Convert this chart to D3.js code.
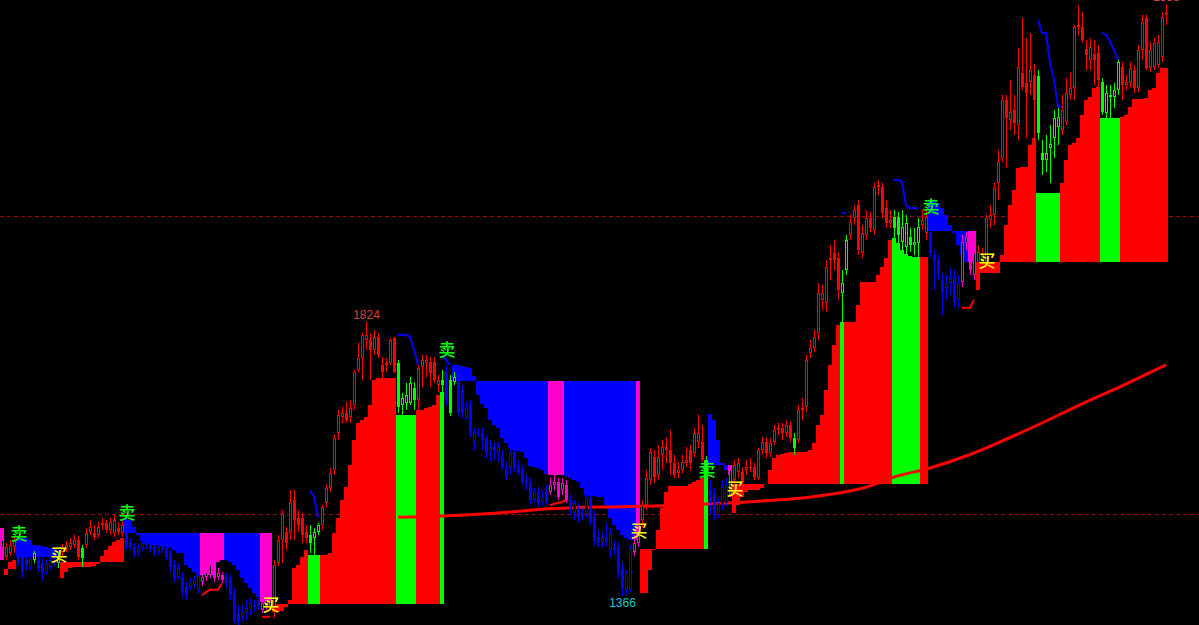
<!DOCTYPE html>
<html>
<head>
<meta charset="utf-8">
<script src="https://cdn.jsdelivr.net/npm/d3@7"></script>
<style>html,body{margin:0;padding:0;background:#000;overflow:hidden}</style>
</head>
<body>
<svg id="chart" width="1199" height="625"></svg>
<script>
// one candle per bar, prices
const opens = [
    1447,1432,1438,1448,1443,1432,1427,1415,1427,1427, 1422,1407,1415,1423,1422,1440,1447,1448,1452,1460,
    1447,1452,1473,1472,1468,1485,1488,1477,1472,1480, 1472,1493,1455,1448,1440,1447,1457,1460,1452,1440,
    1452,1447,1438,1418,1398,1398,1382,1382,1385,1377, 1390,1398,1402,1413,1398,1402,1398,1397,1372,1338,
    1332,1338,1343,1348,1352,1343,1350,1348,1347,1422, 1460,1473,1473,1527,1497,1497,1473,1468,1463,1473,
    1485,1522,1547,1577,1638,1665,1672,1665,1685,1743, 1763,1793,1793,1777,1798,1752,1752,1755,1797,1755,
    1685,1688,1688,1713,1693,1748,1755,1757,1757,1718, 1727,1740,1727,1723,1723,1710,1663,1685,1623,1640,
    1638,1630,1610,1615,1607,1598,1577,1580,1607,1585, 1577,1560,1555,1527,1540,1523,1540,1540,1552,1557,
    1543,1552,1527,1505,1513,1505,1502,1530,1498,1465, 1455,1465,1443,1448,1448,1413,1377,1377,1440,1455,
    1493,1518,1560,1598,1568,1602,1615,1610,1588,1572, 1577,1588,1610,1605,1623,1623,1593,1543,1538,1502,
    1518,1522,1535,1560,1573,1573,1577,1580,1582,1563, 1610,1623,1605,1623,1643,1647,1638,1652,1630,1627,
    1677,1682,1772,1780,1805,1860,1855,1927,1938,1930, 1872,1910,1968,1997,2018,1938,1968,1997,1977,2048,
    2048,2013,1988,1998,1998,1957,1948,1965,1952,1955, 1985,1972,1973,1935,1927,1893,1880,1888,1898,1860,
    1890,1955,1935,1902,1922,1922,1922,1993,2002,2055, 2097,2193,2160,2177,2152,2238,2222,2223,2235,2233,
    2105,2093,2113,2130,2148,2143,2157,2202,2213,2315, 2315,2278,2260,2270,2272,2223,2172,2198,2198,2210,
    2248,2218,2222,2243,2213,2277,2330,2247,2248,2252, 2265,2335
];
const highs = [
    1468,1455,1460,1465,1450,1438,1433,1438,1442,1433, 1430,1427,1432,1432,1440,1453,1458,1463,1468,1467,
    1452,1480,1493,1485,1490,1497,1493,1497,1502,1490, 1493,1497,1463,1455,1453,1463,1463,1467,1458,1455,
    1458,1452,1443,1427,1422,1407,1390,1397,1400,1407, 1410,1417,1427,1422,1413,1407,1405,1402,1380,1352,
    1352,1360,1363,1360,1363,1363,1368,1367,1427,1468, 1510,1482,1543,1543,1510,1505,1485,1485,1480,1488,
    1518,1553,1580,1635,1677,1682,1690,1693,1743,1788, 1805,1824,1805,1810,1805,1765,1763,1797,1798,1760,
    1705,1722,1732,1723,1752,1768,1768,1765,1765,1735, 1743,1752,1735,1740,1730,1718,1690,1693,1647,1647,
    1647,1635,1627,1622,1623,1610,1590,1613,1610,1593, 1585,1568,1563,1547,1548,1543,1552,1563,1568,1563,
    1563,1560,1535,1527,1522,1513,1543,1535,1510,1477, 1472,1488,1480,1460,1455,1422,1410,1452,1468,1480,
    1527,1577,1613,1610,1618,1627,1632,1643,1602,1590, 1602,1615,1618,1647,1668,1652,1600,1560,1547,1530,
    1560,1563,1582,1593,1597,1582,1593,1597,1588,1613, 1632,1630,1630,1652,1655,1655,1660,1657,1638,1685,
    1697,1768,1793,1810,1888,1885,1927,1952,1960,1940, 1910,1968,2002,2018,2027,1985,2010,2007,2055,2060,
    2055,2027,2010,2010,2007,2010,2002,1980,1980,1997, 2010,2010,1990,1943,1935,1905,1902,1913,1910,1902,
    1968,1973,1952,1947,1952,1947,2002,2018,2055,2110, 2202,2202,2227,2202,2280,2330,2297,2305,2253,2243,
    2127,2135,2152,2177,2182,2202,2230,2240,2318,2352, 2340,2293,2297,2293,2285,2230,2218,2218,2222,2260,
    2257,2235,2257,2252,2285,2335,2335,2290,2297,2302, 2340,2353
];
const lows = [
    1430,1427,1433,1438,1417,1397,1410,1410,1422,1407, 1393,1402,1410,1417,1413,1433,1440,1443,1447,1427,
    1415,1447,1468,1460,1463,1477,1472,1468,1465,1468, 1465,1443,1443,1432,1433,1442,1445,1440,1433,1435,
    1438,1427,1407,1390,1393,1365,1360,1377,1380,1372, 1383,1392,1397,1390,1393,1388,1380,1360,1322,1318,
    1323,1327,1335,1340,1343,1338,1343,1343,1330,1417, 1422,1443,1460,1460,1473,1455,1455,1438,1435,1468,
    1477,1515,1540,1568,1627,1655,1655,1655,1677,1740, 1727,1777,1727,1768,1763,1727,1740,1752,1738,1672,
    1668,1677,1685,1677,1677,1715,1732,1715,1722,1707, 1693,1685,1667,1718,1668,1663,1660,1632,1610,1632,
    1610,1597,1590,1593,1590,1577,1560,1568,1573,1568, 1552,1543,1518,1522,1515,1518,1518,1535,1543,1527,
    1535,1522,1502,1493,1490,1493,1497,1485,1452,1448, 1447,1450,1430,1435,1397,1366,1368,1373,1433,1448,
    1482,1510,1552,1555,1560,1577,1588,1568,1563,1563, 1572,1582,1577,1598,1613,1590,1535,1502,1493,1497,
    1510,1517,1532,1552,1563,1547,1568,1573,1560,1560, 1602,1597,1598,1618,1635,1627,1632,1623,1602,1622,
    1660,1673,1763,1773,1793,1843,1840,1893,1910,1860, 1823,1902,1960,1985,1935,1930,1960,1973,1968,2035,
    1997,1980,1980,1960,1952,1943,1935,1940,1935,1930, 1977,1960,1930,1877,1893,1835,1860,1868,1848,1847,
    1882,1943,1902,1893,1913,1910,1917,1980,1985,2027, 2090,2080,2143,2135,2127,2210,2130,2202,2127,2127,
    2068,2073,2055,2097,2118,2135,2152,2193,2193,2302, 2288,2243,2243,2218,2213,2168,2160,2163,2180,2202,
    2193,2210,2213,2205,2207,2260,2243,2240,2243,2247, 2257,2318
];
const closes = [
    1460,1448,1452,1460,1422,1407,1418,1430,1438,1413, 1405,1422,1427,1427,1432,1447,1452,1455,1460,1432,
    1430,1472,1482,1465,1482,1488,1477,1490,1493,1473, 1485,1448,1448,1438,1447,1455,1452,1447,1440,1448,
    1443,1432,1415,1397,1413,1373,1368,1390,1393,1402, 1398,1407,1418,1397,1405,1393,1388,1368,1327,1323,
    1340,1347,1355,1352,1355,1355,1360,1360,1418,1460, 1505,1455,1523,1493,1485,1468,1463,1455,1473,1485,
    1515,1547,1572,1630,1668,1672,1660,1680,1740,1763, 1802,1802,1777,1798,1768,1740,1755,1793,1740,1682,
    1697,1702,1722,1693,1747,1760,1760,1738,1727,1727, 1718,1693,1672,1732,1673,1672,1680,1638,1638,1638,
    1627,1605,1615,1610,1615,1582,1565,1607,1580,1573, 1557,1555,1527,1540,1522,1532,1523,1552,1557,1532,
    1555,1527,1510,1522,1498,1498,1532,1490,1460,1455, 1465,1457,1472,1443,1405,1380,1405,1447,1455,1468,
    1518,1563,1607,1565,1598,1615,1610,1588,1568,1577, 1590,1593,1588,1638,1638,1593,1543,1522,1505,1522,
    1548,1552,1577,1585,1588,1555,1582,1582,1565,1610, 1623,1605,1622,1643,1647,1638,1652,1630,1613,1677,
    1680,1760,1780,1798,1872,1872,1915,1930,1927,1877, 1888,1960,1990,2010,1943,1972,1997,1980,2048,2052,
    2005,1988,1993,1980,1968,1982,1988,1952,1957,1982, 1993,1998,1938,1923,1905,1873,1888,1897,1857,1888,
    1957,1965,1910,1938,1940,1935,1997,2002,2047,2090, 2193,2163,2173,2155,2248,2215,2205,2243,2193,2138,
    2093,2105,2120,2163,2165,2177,2205,2213,2315,2318, 2293,2268,2282,2260,2227,2173,2205,2202,2210,2257,
    2218,2223,2247,2213,2277,2323,2247,2277,2288,2290, 2332,2340
];

// candle colour runs: [first bar, code]
const colorRuns = [
    [0,'m'],[1,'r'],[4,'b'],[8,'g'],[9,'b'],[14,'g'],[15,'r'],[20,'g'],[21,'r'],[31,'b'],
    [50,'m'],[56,'b'],[65,'m'],[68,'r'],[77,'g'],[80,'r'],[99,'g'],[104,'r'],[110,'g'],[111,'b'],
    [112,'g'],[114,'b'],[137,'m'],[142,'b'],[158,'m'],[160,'r'],[176,'g'],[177,'b'],[182,'m'],[183,'r'],
    [198,'g'],[199,'r'],[210,'g'],[212,'r'],[223,'g'],[230,'r'],[232,'b'],[240,'m'],[244,'r'],[259,'g'],
    [265,'r'],[275,'g'],[280,'r']
];

// trailing stop segments
const segFrom = [0, 1, 4, 15, 31, 68, 113, 160, 177, 183, 232, 244];
const segSide = ['sell','buy','sell','buy','sell','buy','sell','buy','sell','buy','sell','buy'];
const segBase = [1480, 1412, 1432, 1423, 1472, 1353, 1725, 1445, 1585, 1553, 1975, 1923];
const segStops = [
    [1427],
    [1402,1423,1427],
    [1463,1463,1463,1460,1452,1452,1450,1448,1447,1447,1443],
    [1397,1407,1413,1415,1415,1415,1415,1415,1417,1420,1433,1443,1450,1457,1460,1463],
    [1497,1493,1482,1468,1458,1455,1453,1452,1452,1450, 1448,1447,1443,1438,1438,1418,1413,1407,1402,1402,
     1402,1402,1402,1423,1427,1427,1423,1418,1410,1397, 1388,1380,1372,1365,1357,1355,1355],
    [1340,1340,1342,1348,1360,1413,1418,1432,1443,1435, 1435,1435,1435,1435,1438,1472,1497,1527,1548,1585,
     1627,1655,1660,1665,1685,1727,1730,1730,1730,1730, 1730,1668,1668,1668,1668,1668,1677,1677,1680,1682,
     1685,1702,1707],
    [1752,1752,1750,1748,1747,1733,1702,1687,1680,1660, 1652,1647,1630,1622,1613,1610,1608,1607,1597,1583,
     1582,1580,1577,1570,1568,1568,1568,1568,1567,1563, 1560,1557,1547,1535,1533,1533,1532,1532,1518,1497,
     1485,1477,1468,1463,1460,1460,1460],
    [1372,1372,1410,1443,1477,1513,1540,1550,1550,1550,1550,1550,1553,1557,1560,1563,1593],
    [1670,1660,1627,1588,1577,1568],
    [1505,1518,1532,1540,1543,1543,1543,1547,1553,1577, 1597,1602,1603,1605,1607,1607,1607,1607,1607,1610,
     1622,1652,1668,1710,1752,1785,1818,1823,1823,1823, 1823,1852,1890,1890,1890,1890,1902,1915,1930,1960,
     1963,1955,1943,1937,1933,1932,1932,1932,1932],
    [2027,2027,2022,2013,2002,1985,1972,1952,1935,1923,1923,1923],
    [1877,1905,1905,1905,1905,1905,1935,1985,2018,2043, 2080,2082,2082,2118,2130,2038,2038,2038,2038,2038,
     2038,2055,2093,2118,2122,2130,2168,2193,2198,2213, 2215,2163,2163,2163,2163,2163,2165,2168,2182,2195,
     2195,2195,2197,2210,2213,2238,2247,2247]
];
// pullback bars (green in buy, magenta in sell)
const pullbacks = [[0,0],[50,55],[65,67],[77,79],[99,103],[110,110],[137,140],[159,159],[176,176],
    [182,182],[210,210],[223,229],[242,243],[259,264],[275,279]];

const bluePull = [[77,[1542,1532,1498]], [99,[1802,1802,1802,1798,1777,1752]], [110,[1768,1760,1752]],
    [210,[2005,2005]], [223,[2060,2060,2057,2018,2013,2013,2013]],
    [259,[2327,2305,2305,2255,2227,2182,2182]], [275,[2305,2302,2290,2277,2260]]];
const redPull = [[50,[1368,1373,1377,1377,1377,1388]], [65,[1332,1332,1332]],
    [137,[1518,1520,1522,1523,1527]], [240,[1847,1847,1847,1860]]];

const maBars = [99,110,124,137,150,165,176,190,200,208,216,223,232,241,249,260,270,280,291];
const maValues = [1498,1500,1505,1512,1515,1517,1520,1525,1530,1537,1548,1565,1580,1600,1622,1655,1687,1717,1752];

const levels = [2000, 1503];

const sellBars = [4, 31, 111, 176, 232];
const sellPrices = [1472, 1507, 1780, 1580, 2018];
const buyBars = [14, 67, 159, 183, 246];
const buyPrices = [1438, 1355, 1477, 1548, 1927];

const markBars = [91, 155, 291];
const markKinds = ['high', 'low', 'high'];

const C = {r: '#ff0000', g: '#00ff00', b: '#0000ff', m: '#ff00cc'};
const N = opens.length;
const [width, height] = [1199, 625];

const x = d3.scaleLinear().domain([0, N]).range([0, 4 * N]);
const y = d3.scaleLinear().domain([1500, 2000]).range([516, 216]);
const cx = i => x(i + 0.5) + 0.5;

const svg = d3.select("#chart");
svg.append("rect").attr("width", width).attr("height", height).attr("fill", "#000");

svg.append("g")
    .selectAll("line")
    .data(levels)
    .join("line")
    .attr("x1", 0).attr("x2", width)
    .attr("y1", d => Math.round(y(d)) + 0.5)
    .attr("y2", d => Math.round(y(d)) + 0.5)
    .attr("stroke", "#a00000")
    .attr("stroke-dasharray", "4,3");

const barColor = [];
colorRuns.forEach(([start, code], k) => {
    const end = k + 1 < colorRuns.length ? colorRuns[k + 1][0] : N;
    for (let i = start; i < end; i++) barColor[i] = code;
});

const isPull = i => pullbacks.some(([a, b]) => i >= a && i <= b);
const cells = [];
segFrom.forEach((from, s) => {
    segStops[s].forEach((v, k) => {
        const i = from + k;
        const buy = segSide[s] === 'buy';
        cells.push({
            i,
            top: Math.max(v, segBase[s]),
            bot: Math.min(v, segBase[s]),
            color: buy ? (isPull(i) ? C.g : C.r) : (isPull(i) ? C.m : C.b)
        });
    });
});

svg.append("g")
    .attr("shape-rendering", "crispEdges")
    .selectAll("rect")
    .data(cells)
    .join("rect")
    .attr("x", d => x(d.i))
    .attr("width", x(1) - x(0))
    .attr("y", d => Math.round(y(d.top)))
    .attr("height", d => Math.max(0, Math.round(y(d.bot)) - Math.round(y(d.top))))
    .attr("fill", d => d.color);

const maLine = d3.line()
    .x((d, k) => x(maBars[k] + 0.5))
    .y(d => y(d))
    .curve(d3.curveMonotoneX);

svg.append("path")
    .attr("d", maLine(maValues))
    .attr("fill", "none")
    .attr("stroke", C.r)
    .attr("stroke-width", 3);

const bars = d3.range(N).map(i => ({
    i, o: opens[i], h: highs[i], l: lows[i], c: closes[i], col: C[barColor[i]],
    top: Math.round(y(Math.max(opens[i], closes[i]))),
    bot: Math.round(y(Math.min(opens[i], closes[i])))
}));

const candles = svg.append("g").attr("shape-rendering", "crispEdges");

candles.selectAll(".wick")
    .data(bars)
    .join("rect")
    .attr("class", "wick")
    .attr("x", d => x(d.i) + 2)
    .attr("width", 1)
    .attr("y", d => Math.round(y(d.h)))
    .attr("height", d => Math.max(1, Math.round(y(d.l)) - Math.round(y(d.h))))
    .attr("fill", d => d.col);

candles.selectAll(".body")
    .data(bars)
    .join("rect")
    .attr("class", "body")
    .attr("x", d => x(d.i) + 1)
    .attr("width", 3)
    .attr("y", d => d.top)
    .attr("height", d => Math.max(1, d.bot - d.top))
    .attr("fill", d => d.col);

// hollow inside for rising bars
candles.selectAll(".hole")
    .data(bars.filter(d => d.c > d.o && d.bot - d.top > 2))
    .join("rect")
    .attr("class", "hole")
    .attr("x", d => x(d.i) + 2)
    .attr("width", 1)
    .attr("y", d => d.top + 1)
    .attr("height", d => d.bot - d.top - 2)
    .attr("fill", "#000");

const pullLine = d3.line()
    .x(d => x(d[0] + 0.5))
    .y(d => y(d[1]));

const drawPull = (runs, color) => {
    svg.append("g")
        .selectAll("path")
        .data(runs)
        .join("path")
        .attr("d", ([from, vals]) => pullLine(vals.map((v, k) => [from + k, v])))
        .attr("fill", "none")
        .attr("stroke", color)
        .attr("stroke-width", 2);
};
drawPull(bluePull, C.b);
drawPull(redPull, C.r);

const cjk = "'Noto Sans CJK SC', 'Noto Sans', sans-serif";

const signal = (barsIdx, prices, glyph, color) => {
    svg.append("g")
        .selectAll("text")
        .data(barsIdx.map((b, k) => ({b, p: prices[k]})))
        .join("text")
        .attr("x", d => x(d.b + 0.5) + 1)
        .attr("y", d => y(d.p))
        .attr("text-anchor", "middle")
        .attr("dominant-baseline", "central")
        .attr("font-family", cjk)
        .attr("font-size", 17)
        .attr("font-weight", 500)
        .attr("fill", color)
        .text(glyph);
};
signal(sellBars, sellPrices, "卖", "#00ff00");
signal(buyBars, buyPrices, "买", "#ffff00");

svg.append("g")
    .selectAll("text")
    .data(markBars.map((b, k) => ({b, kind: markKinds[k]})))
    .join("text")
    .attr("x", d => cx(d.b))
    .attr("y", d => d.kind === 'high' ? y(highs[d.b]) - 3 : y(lows[d.b]) + 2)
    .attr("text-anchor", "middle")
    .attr("dominant-baseline", d => d.kind === 'high' ? "alphabetic" : "hanging")
    .attr("font-family", "'Liberation Sans', Arial, sans-serif")
    .attr("font-size", 12)
    .attr("fill", d => d.kind === 'high' ? "#d84040" : "#20c8c8")
    .text(d => d.kind === 'high' ? highs[d.b] : lows[d.b]);
</script>
</body>
</html>
